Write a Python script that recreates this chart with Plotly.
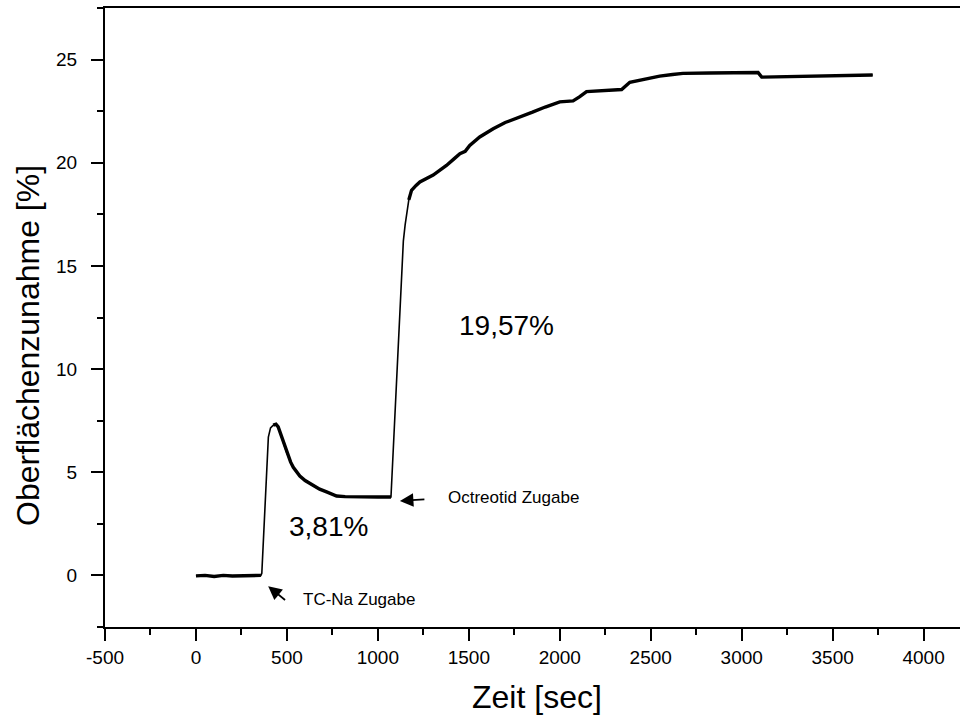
import numpy as np
import plotly.graph_objects as go

# Measured surface increase over time (sec, %)
zeit = [0, 50, 100, 150, 200, 250, 300, 340, 357, 362, 380, 398, 410, 425, 440,
        452, 465, 480, 498, 520, 535, 571, 600, 645, 680, 718, 773, 820, 900, 1000,
        1072, 1100, 1140, 1150, 1158, 1170, 1185, 1210, 1231, 1304, 1377, 1420,
        1451, 1480, 1505, 1560, 1634, 1700, 1780, 1850, 1920, 2000, 2073, 2110,
        2147, 2220, 2340, 2385, 2476, 2549, 2620, 2677, 2824, 2900, 3000, 3090,
        3110, 3200, 3355, 3500, 3600, 3720]
zunahme = [-0.02, 0.0, -0.05, 0.0, -0.03, -0.02, 0.0, -0.02, 0.0, 0.1, 3.6, 6.7,
           7.15, 7.28, 7.33, 7.2, 6.85, 6.45, 5.97, 5.5, 5.24, 4.82, 4.6, 4.34,
           4.18, 4.05, 3.85, 3.82, 3.8, 3.8, 3.8, 8.9, 16.2, 17.0, 17.6, 18.2,
           18.66, 18.9, 19.07, 19.4, 19.87, 20.2, 20.44, 20.55, 20.84, 21.25,
           21.65, 21.95, 22.2, 22.45, 22.7, 22.95, 23.0, 23.2, 23.45, 23.5, 23.55,
           23.9, 24.08, 24.2, 24.28, 24.33, 24.35, 24.36, 24.37, 24.37, 24.15,
           24.16, 24.18, 24.2, 24.23, 24.25]

# Time windows where the signal is steady (drawn as a thicker, noisy band)
steady_windows = [(0, 357), (425, 1072), (1170, 3720)]

x_ticks = [-500, 0, 500, 1000, 1500, 2000, 2500, 3000, 3500, 4000]
y_ticks = [0, 5, 10, 15, 20, 25]

FONT = "Liberation Sans, Arial, sans-serif"

t = np.array(zeit, dtype=float)
v = np.array(zunahme, dtype=float)

fig = go.Figure()
fig.add_trace(go.Scatter(x=t, y=v, mode="lines",
                         line=dict(color="black", width=1.6),
                         hoverinfo="skip", showlegend=False))
for lo, hi in steady_windows:
    m = (t >= lo) & (t <= hi)
    fig.add_trace(go.Scatter(x=t[m], y=v[m], mode="lines",
                             line=dict(color="black", width=3.4),
                             hoverinfo="skip", showlegend=False))

axis_common = dict(
    showline=True, linecolor="black", linewidth=2,
    ticks="outside", ticklen=12, tickwidth=2, tickcolor="black",
    showgrid=False, zeroline=False,
    tickfont=dict(family=FONT, size=19, color="black"),
)

# Frame: left and bottom axes plus the top edge (the right edge lies off-page)
fig.update_xaxes(range=[-500, 4200], tickvals=x_ticks,
                 ticktext=[str(v) for v in x_ticks], mirror=True,
                 minor=dict(dtick=250, tick0=0, ticks="outside", ticklen=6,
                            tickwidth=2, tickcolor="black"),
                 **axis_common)
fig.update_yaxes(range=[-2.5, 27.5], tickvals=y_ticks,
                 ticktext=[str(v) for v in y_ticks], mirror=False,
                 ticklabelstandoff=10,
                 minor=dict(dtick=2.5, tick0=0, ticks="outside", ticklen=6,
                            tickwidth=2, tickcolor="black"),
                 **axis_common)

W, H = 960, 727
L, R, T, B = 105, 0, 8, 100


def page_to_paper(px, py):
    return (px - L) / (W - L - R), (H - B - py) / (H - T - B)


# Axis titles, positioned in page pixels
tx, ty = page_to_paper(537, 697)
fig.add_annotation(x=tx, y=ty, xref="paper", yref="paper", text="Zeit [sec]",
                   xanchor="center", yanchor="middle", showarrow=False,
                   font=dict(family=FONT, size=32, color="black"))
tx, ty = page_to_paper(28, 346)
fig.add_annotation(x=tx, y=ty, xref="paper", yref="paper",
                   text="Oberflächenzunahme [%]", textangle=-90,
                   xanchor="center", yanchor="middle", showarrow=False,
                   font=dict(family=FONT, size=32, color="black"))

# Step heights
fig.add_annotation(x=1709, y=12.1, text="19,57%", showarrow=False,
                   font=dict(family=FONT, size=28, color="black"))
fig.add_annotation(x=731, y=2.38, text="3,81%", showarrow=False,
                   font=dict(family=FONT, size=28, color="black"))

# Addition markers
fig.add_annotation(x=397, y=-0.52, ax=498, ay=-1.25, axref="x", ayref="y",
                   xref="x", yref="y", text="", showarrow=True,
                   arrowhead=2, arrowsize=1.5, arrowwidth=1.8, arrowcolor="black")
fig.add_annotation(x=575, y=-1.17, text="TC-Na Zugabe", showarrow=False,
                   xanchor="left", font=dict(family=FONT, size=17, color="black"))
fig.add_annotation(x=1121, y=3.61, ax=1264, ay=3.69, axref="x", ayref="y",
                   xref="x", yref="y", text="", showarrow=True,
                   arrowhead=2, arrowsize=1.5, arrowwidth=1.8, arrowcolor="black")
fig.add_annotation(x=1377, y=3.79, text="Octreotid Zugabe", showarrow=False,
                   xanchor="left", font=dict(family=FONT, size=17, color="black"))

fig.update_layout(
    width=W, height=H,
    margin=dict(l=L, r=R, t=T, b=B),
    paper_bgcolor="white", plot_bgcolor="white",
    showlegend=False,
)

fig.write_html("out.html")
